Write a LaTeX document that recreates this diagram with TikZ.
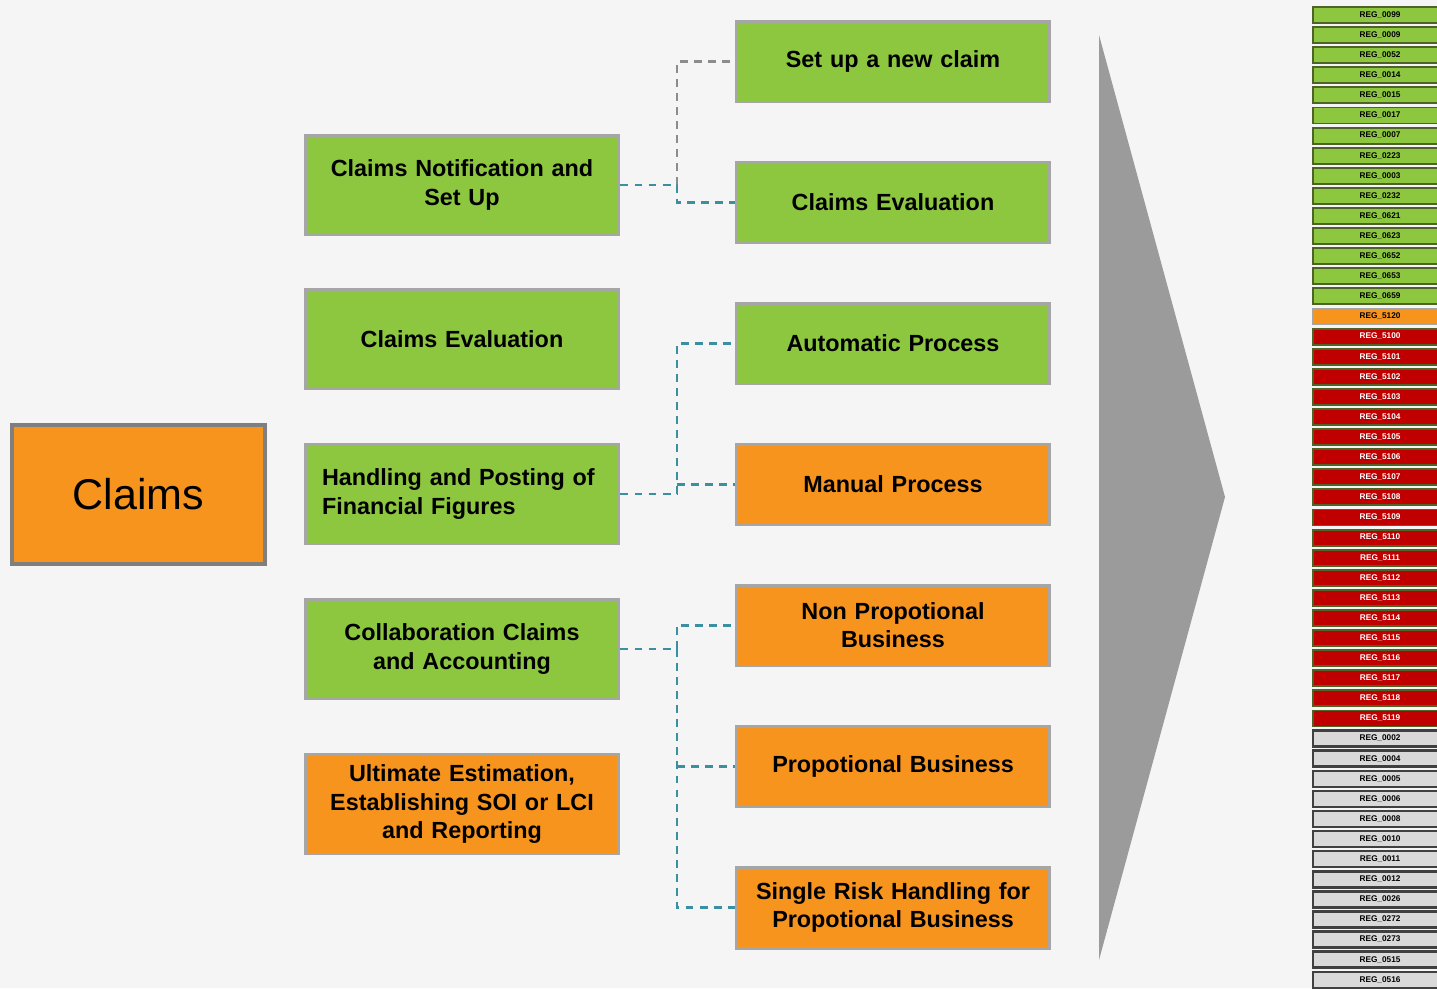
\documentclass[tikz,border=0pt]{standalone}
\usepackage{fontspec}
\usepackage{xcolor}
\usepackage{tikz}
\setmainfont{Liberation Sans}

\definecolor{bgcol}{HTML}{F5F5F5}
\definecolor{boxgreen}{HTML}{8DC63F}
\definecolor{boxorange}{HTML}{F7941E}
\definecolor{boxedge}{HTML}{A6A6A6}
\definecolor{mainedge}{HTML}{7F7F7F}
\definecolor{linkteal}{HTML}{3A8FA0}
\definecolor{linkgray}{HTML}{8C8C8C}
\definecolor{arrowgray}{HTML}{9B9B9B}
\definecolor{regred}{HTML}{C00000}
\definecolor{regedge}{HTML}{4F6228}
\definecolor{reggray}{HTML}{D9D9D9}
\definecolor{regdark}{HTML}{404040}

\tikzset{
  box/.style={draw=boxedge, line width=1.7pt, inner sep=0pt,
    minimum width=6.28cm, text width=5.6cm, align=center,
    font=\bfseries\fontsize{13.3}{16}\selectfont},
  leftbox/.style={box, minimum height=2.0cm},
  rightbox/.style={box, minimum height=1.62cm},
  link/.style={linkteal, line width=1.5pt, dash pattern=on 4.5pt off 3.5pt},
  graylink/.style={link, draw=linkgray},
  regbar/.style={line width=1.1pt, inner sep=0pt, minimum width=2.68cm,
    minimum height=0.32cm, font=\bfseries\fontsize{4.7}{5}\selectfont},
}

\begin{document}
\begin{tikzpicture}[x=0.02cm, y=-0.02cm]
    \useasboundingbox (0,0) rectangle (1437,988);
    \clip (0,0) rectangle (1437,988);
    \fill[bgcol] (0,0) rectangle (1437,988);

    % main box
    \node[draw=mainedge, fill=boxorange, line width=2.3pt, minimum width=5.06cm,
      minimum height=2.78cm, font=\fontsize{24.5}{29}\selectfont] (claims) at (138.5,494.5) {Claims};

    % left column
    \node[leftbox, fill=boxgreen] (notif) at (462,185) {Claims Notification and\\Set Up};
    \node[leftbox, fill=boxgreen] (evalL) at (462,339) {Claims Evaluation};
    \node[leftbox, fill=boxgreen, align=left] (handl) at (462,494) {Handling and Posting of\\Financial Figures};
    \node[leftbox, fill=boxgreen] (collab) at (462,649) {Collaboration Claims\\and Accounting};
    \node[leftbox, fill=boxorange] (ultim) at (462,804) {Ultimate Estimation,\\Establishing SOI or LCI\\and Reporting};

    % right column
    \node[rightbox, fill=boxgreen] (newclaim) at (893,61.5) {Set up a new claim};
    \node[rightbox, fill=boxgreen] (evalR) at (893,202.5) {Claims Evaluation};
    \node[rightbox, fill=boxgreen] (auto) at (893,343.5) {Automatic Process};
    \node[rightbox, fill=boxorange] (manual) at (893,484.5) {Manual Process};
    \node[rightbox, fill=boxorange] (nonprop) at (893,625.5) {Non Propotional\\Business};
    \node[rightbox, fill=boxorange] (prop) at (893,766.5) {Propotional Business};
    \node[rightbox, fill=boxorange] (single) at (893,907.5) {Single Risk Handling for\\Propotional Business};

    % connectors
    \coordinate (j1) at (677,185);
    \coordinate (j2) at (677,494);
    \coordinate (j3) at (677,649);
    \draw[graylink] (j1) |- (newclaim.west);
    \draw[link] (notif.east) -- (j1) |- (evalR.west);
    \draw[link] (handl.east) -- (j2) |- (auto.west);
    \draw[link] (j2 |- manual.west) -- (manual.west);
    \draw[link] (collab.east) -- (j3) |- (nonprop.west);
    \draw[link] (j3) |- (single.west);
    \draw[link] (j3 |- prop.west) -- (prop.west);

    % big arrow
    \fill[arrowgray] (1099,35) -- (1225,497) -- (1099,960) -- cycle;

    % register list
    \foreach \lab [count=\i from 0] in {0099,0009,0052,0014,0015,0017,0007,0223,0003,0232,0621,0623,0652,0653,0659}
        \node[regbar, draw=regedge, fill=boxgreen] (reg\lab) at (1380,15+20.1*\i) {REG\_\lab};
    \node[regbar, draw=boxedge, fill=boxorange] (reg5120) at (1380,15+20.1*15) {REG\_5120};
    \foreach \lab [count=\i from 16] in {5100,5101,5102,5103,5104,5105,5106,5107,5108,5109,5110,5111,5112,5113,5114,5115,5116,5117,5118,5119}
        \node[regbar, draw=regedge, fill=regred, text=white] (reg\lab) at (1380,15+20.1*\i) {REG\_\lab};
    \foreach \lab [count=\i from 36] in {0002,0004,0005,0006,0008,0010,0011,0012,0026,0272,0273,0515,0516}
        \node[regbar, draw=regdark, fill=reggray, line width=1.4pt] (reg\lab) at (1380,15+20.1*\i) {REG\_\lab};
\end{tikzpicture}
\end{document}
